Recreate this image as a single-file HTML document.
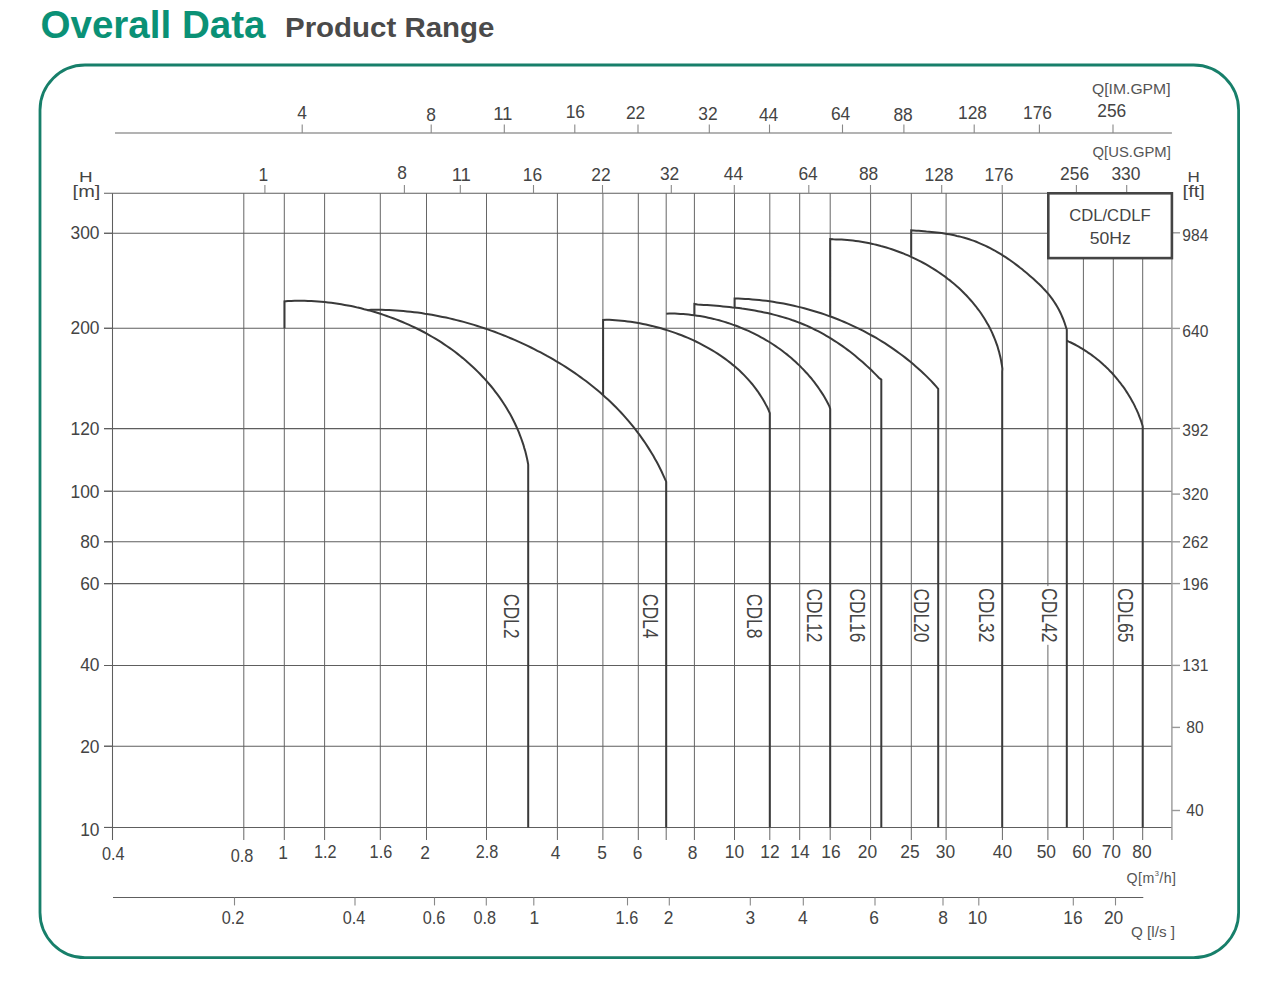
<!DOCTYPE html>
<html><head><meta charset="utf-8"><title>Overall Data - Product Range</title>
<style>
html,body{margin:0;padding:0;background:#fff;}
body{width:1279px;height:981px;overflow:hidden;position:relative;font-family:"Liberation Sans",Arial,sans-serif;}
h1{position:absolute;left:0;top:0;margin:0;font-weight:bold;white-space:nowrap;}
svg{position:absolute;left:0;top:0;}
.vg{stroke:#666;stroke-width:1.0;}
.hg{stroke:#5e5e5e;stroke-width:1.05;}
.ax{stroke:#999;stroke-width:1.4;}
.tk{stroke:#888;stroke-width:1.1;}
.cv{fill:none;stroke:#3a3a3a;stroke-width:2.0;stroke-linejoin:miter;}
text{font-family:"Liberation Sans",Arial,sans-serif;fill:#444;}
.n{font-size:18.2px;}
.r{font-size:15.6px;}
.t{font-size:14.2px;fill:#555;}
.u{font-size:15.5px;}
.u2{font-size:16px;}
.c{font-size:21.2px;}
.b{font-size:17px;}
.ti1{font-size:38.3px;font-weight:bold;fill:#0a9176;}
.ti2{font-size:27.6px;font-weight:bold;fill:#4a4a4a;}
</style></head><body>
<svg width="1279" height="981" viewBox="0 0 1279 981">
<text x="40.5" y="37.5" class="ti1" textLength="225" lengthAdjust="spacingAndGlyphs">Overall Data</text>
<text x="285" y="36.6" class="ti2" textLength="209.5" lengthAdjust="spacingAndGlyphs">Product Range</text>
<rect x="40" y="65" width="1198.6" height="892.6" rx="45" ry="45" fill="none" stroke="#177f6a" stroke-width="2.8"/>
<line x1="243.8" y1="193.3" x2="243.8" y2="840" class="vg"/>
<line x1="284.3" y1="193.3" x2="284.3" y2="840" class="vg"/>
<line x1="324.6" y1="193.3" x2="324.6" y2="840" class="vg"/>
<line x1="380.3" y1="193.3" x2="380.3" y2="840" class="vg"/>
<line x1="426.5" y1="193.3" x2="426.5" y2="840" class="vg"/>
<line x1="486.5" y1="193.3" x2="486.5" y2="840" class="vg"/>
<line x1="557.4" y1="193.3" x2="557.4" y2="840" class="vg"/>
<line x1="602.9" y1="193.3" x2="602.9" y2="840" class="vg"/>
<line x1="638.3" y1="193.3" x2="638.3" y2="840" class="vg"/>
<line x1="666.2" y1="193.3" x2="666.2" y2="840" class="vg"/>
<line x1="694.4" y1="193.3" x2="694.4" y2="840" class="vg"/>
<line x1="734.5" y1="193.3" x2="734.5" y2="840" class="vg"/>
<line x1="769.8" y1="193.3" x2="769.8" y2="840" class="vg"/>
<line x1="799.7" y1="193.3" x2="799.7" y2="840" class="vg"/>
<line x1="830.2" y1="193.3" x2="830.2" y2="840" class="vg"/>
<line x1="870.6" y1="193.3" x2="870.6" y2="840" class="vg"/>
<line x1="911.3" y1="193.3" x2="911.3" y2="840" class="vg"/>
<line x1="946.1" y1="193.3" x2="946.1" y2="840" class="vg"/>
<line x1="1002.4" y1="193.3" x2="1002.4" y2="840" class="vg"/>
<line x1="1047.9" y1="193.3" x2="1047.9" y2="840" class="vg"/>
<line x1="1083.4" y1="193.3" x2="1083.4" y2="840" class="vg"/>
<line x1="1113.3" y1="193.3" x2="1113.3" y2="840" class="vg"/>
<line x1="1142.7" y1="193.3" x2="1142.7" y2="840" class="vg"/>
<line x1="104" y1="233.3" x2="1171.9" y2="233.3" class="hg"/>
<line x1="104" y1="328.3" x2="1171.9" y2="328.3" class="hg"/>
<line x1="104" y1="428.6" x2="1171.9" y2="428.6" class="hg"/>
<line x1="104" y1="491.2" x2="1171.9" y2="491.2" class="hg"/>
<line x1="104" y1="541.8" x2="1171.9" y2="541.8" class="hg"/>
<line x1="104" y1="583.6" x2="1171.9" y2="583.6" class="hg"/>
<line x1="104" y1="665.5" x2="1171.9" y2="665.5" class="hg"/>
<line x1="104" y1="746.2" x2="1171.9" y2="746.2" class="hg"/>
<line x1="104" y1="193.3" x2="1171.9" y2="193.3" class="hg"/>
<line x1="104" y1="827.4" x2="1171.9" y2="827.4" class="hg"/>
<line x1="112.5" y1="193.3" x2="112.5" y2="840" class="hg"/>
<line x1="1171.9" y1="193.3" x2="1171.9" y2="840" class="ax"/>
<line x1="115" y1="133" x2="1171.9" y2="133" stroke="#9a9a9a" stroke-width="1.6"/>
<line x1="302.2" y1="124.5" x2="302.2" y2="133" class="tk"/>
<text x="302.2" y="118.7" class="n" text-anchor="middle" textLength="9.67" lengthAdjust="spacingAndGlyphs">4</text>
<line x1="431.2" y1="124.5" x2="431.2" y2="133" class="tk"/>
<text x="431.0" y="120.8" class="n" text-anchor="middle" textLength="9.67" lengthAdjust="spacingAndGlyphs">8</text>
<line x1="504.3" y1="124.5" x2="504.3" y2="133" class="tk"/>
<text x="502.8" y="120.0" class="n" text-anchor="middle" textLength="19.35" lengthAdjust="spacingAndGlyphs">11</text>
<line x1="574.8" y1="124.5" x2="574.8" y2="133" class="tk"/>
<text x="575.3" y="118.0" class="n" text-anchor="middle" textLength="19.35" lengthAdjust="spacingAndGlyphs">16</text>
<line x1="638.0" y1="124.5" x2="638.0" y2="133" class="tk"/>
<text x="635.6" y="119.3" class="n" text-anchor="middle" textLength="19.35" lengthAdjust="spacingAndGlyphs">22</text>
<line x1="709.3" y1="124.5" x2="709.3" y2="133" class="tk"/>
<text x="707.9" y="119.5" class="n" text-anchor="middle" textLength="19.35" lengthAdjust="spacingAndGlyphs">32</text>
<line x1="769.5" y1="124.5" x2="769.5" y2="133" class="tk"/>
<text x="768.6" y="120.5" class="n" text-anchor="middle" textLength="19.35" lengthAdjust="spacingAndGlyphs">44</text>
<line x1="842.5" y1="124.5" x2="842.5" y2="133" class="tk"/>
<text x="840.6" y="119.5" class="n" text-anchor="middle" textLength="19.35" lengthAdjust="spacingAndGlyphs">64</text>
<line x1="903.9" y1="124.5" x2="903.9" y2="133" class="tk"/>
<text x="903.1" y="120.5" class="n" text-anchor="middle" textLength="19.35" lengthAdjust="spacingAndGlyphs">88</text>
<line x1="974.2" y1="124.5" x2="974.2" y2="133" class="tk"/>
<text x="972.5" y="118.9" class="n" text-anchor="middle" textLength="29.02" lengthAdjust="spacingAndGlyphs">128</text>
<line x1="1039.4" y1="124.5" x2="1039.4" y2="133" class="tk"/>
<text x="1037.5" y="118.9" class="n" text-anchor="middle" textLength="29.02" lengthAdjust="spacingAndGlyphs">176</text>
<line x1="1113.0" y1="124.5" x2="1113.0" y2="133" class="tk"/>
<text x="1111.8" y="116.7" class="n" text-anchor="middle" textLength="29.02" lengthAdjust="spacingAndGlyphs">256</text>
<line x1="264.9" y1="185" x2="264.9" y2="193.3" class="tk"/>
<text x="263.3" y="180.5" class="n" text-anchor="middle" textLength="9.67" lengthAdjust="spacingAndGlyphs">1</text>
<line x1="404.4" y1="185" x2="404.4" y2="193.3" class="tk"/>
<text x="402.2" y="179.3" class="n" text-anchor="middle" textLength="9.67" lengthAdjust="spacingAndGlyphs">8</text>
<line x1="460.3" y1="185" x2="460.3" y2="193.3" class="tk"/>
<text x="461.3" y="181.3" class="n" text-anchor="middle" textLength="19.35" lengthAdjust="spacingAndGlyphs">11</text>
<line x1="533.5" y1="185" x2="533.5" y2="193.3" class="tk"/>
<text x="532.5" y="181.3" class="n" text-anchor="middle" textLength="19.35" lengthAdjust="spacingAndGlyphs">16</text>
<line x1="602.5" y1="185" x2="602.5" y2="193.3" class="tk"/>
<text x="600.9" y="181.3" class="n" text-anchor="middle" textLength="19.35" lengthAdjust="spacingAndGlyphs">22</text>
<line x1="671.3" y1="185" x2="671.3" y2="193.3" class="tk"/>
<text x="669.6" y="180.0" class="n" text-anchor="middle" textLength="19.35" lengthAdjust="spacingAndGlyphs">32</text>
<line x1="734.3" y1="185" x2="734.3" y2="193.3" class="tk"/>
<text x="733.4" y="180.0" class="n" text-anchor="middle" textLength="19.35" lengthAdjust="spacingAndGlyphs">44</text>
<line x1="808.8" y1="185" x2="808.8" y2="193.3" class="tk"/>
<text x="808.1" y="180.0" class="n" text-anchor="middle" textLength="19.35" lengthAdjust="spacingAndGlyphs">64</text>
<line x1="870.5" y1="185" x2="870.5" y2="193.3" class="tk"/>
<text x="868.6" y="180.0" class="n" text-anchor="middle" textLength="19.35" lengthAdjust="spacingAndGlyphs">88</text>
<line x1="941.7" y1="185" x2="941.7" y2="193.3" class="tk"/>
<text x="939.0" y="181.0" class="n" text-anchor="middle" textLength="29.02" lengthAdjust="spacingAndGlyphs">128</text>
<line x1="1002.2" y1="185" x2="1002.2" y2="193.3" class="tk"/>
<text x="999.0" y="180.8" class="n" text-anchor="middle" textLength="29.02" lengthAdjust="spacingAndGlyphs">176</text>
<line x1="1076.4" y1="185" x2="1076.4" y2="193.3" class="tk"/>
<text x="1074.6" y="179.8" class="n" text-anchor="middle" textLength="29.02" lengthAdjust="spacingAndGlyphs">256</text>
<line x1="1126.7" y1="185" x2="1126.7" y2="193.3" class="tk"/>
<text x="1125.9" y="179.8" class="n" text-anchor="middle" textLength="29.02" lengthAdjust="spacingAndGlyphs">330</text>
<text x="1092" y="93.6" class="t" textLength="78.5" lengthAdjust="spacingAndGlyphs">Q[IM.GPM]</text>
<text x="1092.6" y="156.8" class="t" textLength="78.2" lengthAdjust="spacingAndGlyphs">Q[US.GPM]</text>
<line x1="104" y1="233.3" x2="112.5" y2="233.3" class="hg"/>
<text x="99.5" y="239.2" class="n" text-anchor="end" textLength="29.02" lengthAdjust="spacingAndGlyphs">300</text>
<line x1="104" y1="328.3" x2="112.5" y2="328.3" class="hg"/>
<text x="99.5" y="333.9" class="n" text-anchor="end" textLength="29.02" lengthAdjust="spacingAndGlyphs">200</text>
<line x1="104" y1="428.6" x2="112.5" y2="428.6" class="hg"/>
<text x="99.5" y="435.1" class="n" text-anchor="end" textLength="29.02" lengthAdjust="spacingAndGlyphs">120</text>
<line x1="104" y1="491.2" x2="112.5" y2="491.2" class="hg"/>
<text x="99.5" y="497.9" class="n" text-anchor="end" textLength="29.02" lengthAdjust="spacingAndGlyphs">100</text>
<line x1="104" y1="541.8" x2="112.5" y2="541.8" class="hg"/>
<text x="99.5" y="548.4" class="n" text-anchor="end" textLength="19.35" lengthAdjust="spacingAndGlyphs">80</text>
<line x1="104" y1="583.6" x2="112.5" y2="583.6" class="hg"/>
<text x="99.5" y="589.6" class="n" text-anchor="end" textLength="19.35" lengthAdjust="spacingAndGlyphs">60</text>
<line x1="104" y1="665.5" x2="112.5" y2="665.5" class="hg"/>
<text x="99.5" y="671.0" class="n" text-anchor="end" textLength="19.35" lengthAdjust="spacingAndGlyphs">40</text>
<line x1="104" y1="746.2" x2="112.5" y2="746.2" class="hg"/>
<text x="99.5" y="753.2" class="n" text-anchor="end" textLength="19.35" lengthAdjust="spacingAndGlyphs">20</text>
<line x1="104" y1="827.4" x2="112.5" y2="827.4" class="hg"/>
<text x="99.5" y="835.7" class="n" text-anchor="end" textLength="19.35" lengthAdjust="spacingAndGlyphs">10</text>
<text transform="translate(78.9,182.1) scale(1.22,1)" class="u">H</text>
<text x="72.6" y="197.3" class="u2" textLength="27.7" lengthAdjust="spacingAndGlyphs">[m]</text>
<text transform="translate(1187.4,182.3) scale(1.1,1)" class="u">H</text>
<text x="1182.6" y="197.3" class="u2" textLength="22.2" lengthAdjust="spacingAndGlyphs">[ft]</text>
<line x1="1171.9" y1="232.8" x2="1180" y2="232.8" class="ax"/>
<text x="1182.3" y="241.0" class="r">984</text>
<line x1="1171.9" y1="328.4" x2="1180" y2="328.4" class="ax"/>
<text x="1182.3" y="336.7" class="r">640</text>
<line x1="1171.9" y1="428.4" x2="1180" y2="428.4" class="ax"/>
<text x="1182.3" y="435.8" class="r">392</text>
<line x1="1171.9" y1="494.1" x2="1180" y2="494.1" class="ax"/>
<text x="1182.3" y="499.8" class="r">320</text>
<line x1="1171.9" y1="541.8" x2="1180" y2="541.8" class="ax"/>
<text x="1182.3" y="547.8" class="r">262</text>
<line x1="1171.9" y1="583.6" x2="1180" y2="583.6" class="ax"/>
<text x="1182.3" y="589.9" class="r">196</text>
<line x1="1171.9" y1="665.4" x2="1180" y2="665.4" class="ax"/>
<text x="1182.3" y="671.2" class="r">131</text>
<line x1="1171.9" y1="727.4" x2="1180" y2="727.4" class="ax"/>
<text x="1186.3" y="733.0" class="r">80</text>
<line x1="1171.9" y1="810.5" x2="1180" y2="810.5" class="ax"/>
<text x="1186.3" y="816.3" class="r">40</text>
<text x="113.3" y="860.0" class="n" text-anchor="middle" textLength="22.6" lengthAdjust="spacingAndGlyphs">0.4</text>
<text x="242.1" y="862.0" class="n" text-anchor="middle" textLength="22.6" lengthAdjust="spacingAndGlyphs">0.8</text>
<text x="283.0" y="858.8" class="n" text-anchor="middle" textLength="9.67" lengthAdjust="spacingAndGlyphs">1</text>
<text x="325.3" y="858.0" class="n" text-anchor="middle" textLength="22.6" lengthAdjust="spacingAndGlyphs">1.2</text>
<text x="380.9" y="858.0" class="n" text-anchor="middle" textLength="22.6" lengthAdjust="spacingAndGlyphs">1.6</text>
<text x="425.0" y="858.8" class="n" text-anchor="middle" textLength="9.67" lengthAdjust="spacingAndGlyphs">2</text>
<text x="487.0" y="858.0" class="n" text-anchor="middle" textLength="22.6" lengthAdjust="spacingAndGlyphs">2.8</text>
<text x="555.5" y="858.8" class="n" text-anchor="middle" textLength="9.67" lengthAdjust="spacingAndGlyphs">4</text>
<text x="602.0" y="858.8" class="n" text-anchor="middle" textLength="9.67" lengthAdjust="spacingAndGlyphs">5</text>
<text x="637.5" y="858.8" class="n" text-anchor="middle" textLength="9.67" lengthAdjust="spacingAndGlyphs">6</text>
<text x="692.5" y="858.8" class="n" text-anchor="middle" textLength="9.67" lengthAdjust="spacingAndGlyphs">8</text>
<text x="734.5" y="858.0" class="n" text-anchor="middle" textLength="19.35" lengthAdjust="spacingAndGlyphs">10</text>
<text x="770.0" y="858.0" class="n" text-anchor="middle" textLength="19.35" lengthAdjust="spacingAndGlyphs">12</text>
<text x="800.0" y="858.0" class="n" text-anchor="middle" textLength="19.35" lengthAdjust="spacingAndGlyphs">14</text>
<text x="831.0" y="858.0" class="n" text-anchor="middle" textLength="19.35" lengthAdjust="spacingAndGlyphs">16</text>
<text x="867.5" y="858.0" class="n" text-anchor="middle" textLength="19.35" lengthAdjust="spacingAndGlyphs">20</text>
<text x="910.0" y="858.0" class="n" text-anchor="middle" textLength="19.35" lengthAdjust="spacingAndGlyphs">25</text>
<text x="945.5" y="858.0" class="n" text-anchor="middle" textLength="19.35" lengthAdjust="spacingAndGlyphs">30</text>
<text x="1002.5" y="858.0" class="n" text-anchor="middle" textLength="19.35" lengthAdjust="spacingAndGlyphs">40</text>
<text x="1046.3" y="858.0" class="n" text-anchor="middle" textLength="19.35" lengthAdjust="spacingAndGlyphs">50</text>
<text x="1081.8" y="858.0" class="n" text-anchor="middle" textLength="19.35" lengthAdjust="spacingAndGlyphs">60</text>
<text x="1111.3" y="858.0" class="n" text-anchor="middle" textLength="19.35" lengthAdjust="spacingAndGlyphs">70</text>
<text x="1142.0" y="857.8" class="n" text-anchor="middle" textLength="19.35" lengthAdjust="spacingAndGlyphs">80</text>
<text x="1126.5" y="883" class="t" letter-spacing="0.45">Q[m<tspan font-size="7.5" dy="-7">3</tspan><tspan dy="7">/h]</tspan></text>
<line x1="113" y1="897.5" x2="1143.3" y2="897.5" class="hg"/>
<line x1="234.5" y1="897.5" x2="234.5" y2="905.4" class="tk"/>
<text x="233.1" y="924" class="n" text-anchor="middle" textLength="22.6" lengthAdjust="spacingAndGlyphs">0.2</text>
<line x1="355.0" y1="897.5" x2="355.0" y2="905.4" class="tk"/>
<text x="354.0" y="924" class="n" text-anchor="middle" textLength="22.6" lengthAdjust="spacingAndGlyphs">0.4</text>
<line x1="434.5" y1="897.5" x2="434.5" y2="905.4" class="tk"/>
<text x="434.1" y="924" class="n" text-anchor="middle" textLength="22.6" lengthAdjust="spacingAndGlyphs">0.6</text>
<line x1="486.3" y1="897.5" x2="486.3" y2="905.4" class="tk"/>
<text x="484.8" y="924" class="n" text-anchor="middle" textLength="22.6" lengthAdjust="spacingAndGlyphs">0.8</text>
<line x1="533.8" y1="897.5" x2="533.8" y2="905.4" class="tk"/>
<text x="534.4" y="924" class="n" text-anchor="middle" textLength="9.67" lengthAdjust="spacingAndGlyphs">1</text>
<line x1="627.5" y1="897.5" x2="627.5" y2="905.4" class="tk"/>
<text x="626.9" y="924" class="n" text-anchor="middle" textLength="22.6" lengthAdjust="spacingAndGlyphs">1.6</text>
<line x1="669.3" y1="897.5" x2="669.3" y2="905.4" class="tk"/>
<text x="668.5" y="924" class="n" text-anchor="middle" textLength="9.67" lengthAdjust="spacingAndGlyphs">2</text>
<line x1="750.3" y1="897.5" x2="750.3" y2="905.4" class="tk"/>
<text x="750.4" y="924" class="n" text-anchor="middle" textLength="9.67" lengthAdjust="spacingAndGlyphs">3</text>
<line x1="803.3" y1="897.5" x2="803.3" y2="905.4" class="tk"/>
<text x="802.8" y="924" class="n" text-anchor="middle" textLength="9.67" lengthAdjust="spacingAndGlyphs">4</text>
<line x1="875.0" y1="897.5" x2="875.0" y2="905.4" class="tk"/>
<text x="874.1" y="924" class="n" text-anchor="middle" textLength="9.67" lengthAdjust="spacingAndGlyphs">6</text>
<line x1="943.0" y1="897.5" x2="943.0" y2="905.4" class="tk"/>
<text x="943.1" y="924" class="n" text-anchor="middle" textLength="9.67" lengthAdjust="spacingAndGlyphs">8</text>
<line x1="978.8" y1="897.5" x2="978.8" y2="905.4" class="tk"/>
<text x="977.5" y="924" class="n" text-anchor="middle" textLength="19.35" lengthAdjust="spacingAndGlyphs">10</text>
<line x1="1073.3" y1="897.5" x2="1073.3" y2="905.4" class="tk"/>
<text x="1072.9" y="924" class="n" text-anchor="middle" textLength="19.35" lengthAdjust="spacingAndGlyphs">16</text>
<line x1="1115.5" y1="897.5" x2="1115.5" y2="905.4" class="tk"/>
<text x="1113.6" y="924" class="n" text-anchor="middle" textLength="19.35" lengthAdjust="spacingAndGlyphs">20</text>
<text x="1131" y="937" class="t" textLength="44" lengthAdjust="spacingAndGlyphs">Q [l/s ]</text>
<path d="M284.5,328.3 L284.5,301.40000000000003 L284.5,301.4 L287.9,301.0 L291.3,300.9 L294.6,300.8 L297.9,300.7 L301.3,300.7 L304.6,300.8 L308.0,300.9 L311.3,301.0 L314.7,301.2 L318.0,301.4 L321.3,301.7 L324.7,302.0 L328.0,302.4 L331.3,302.8 L334.6,303.2 L337.9,303.7 L341.3,304.3 L344.6,304.9 L347.9,305.5 L351.2,306.1 L354.4,306.8 L357.7,307.6 L361.0,308.3 L364.2,309.2 L367.5,310.0 L370.7,310.9 L374.0,311.8 L377.2,312.8 L380.4,313.8 L383.6,314.9 L386.8,316.0 L389.9,317.1 L393.1,318.2 L396.2,319.4 L399.4,320.7 L402.5,322.0 L405.6,323.3 L408.6,324.7 L411.7,326.1 L414.7,327.5 L417.8,329.0 L420.8,330.5 L423.7,332.0 L426.7,333.6 L429.6,335.3 L432.5,337.0 L435.4,338.7 L438.3,340.4 L441.1,342.2 L443.9,344.1 L446.7,346.0 L449.5,347.9 L452.2,349.8 L454.9,351.8 L457.6,353.9 L460.2,356.0 L462.8,358.1 L465.4,360.3 L467.9,362.5 L470.4,364.7 L472.9,367.0 L475.3,369.3 L477.7,371.6 L480.1,374.0 L482.4,376.5 L484.7,378.9 L486.9,381.4 L489.1,384.0 L491.3,386.5 L493.4,389.1 L495.4,391.8 L497.4,394.4 L499.4,397.2 L501.3,399.9 L503.2,402.7 L505.0,405.5 L506.7,408.3 L508.4,411.2 L510.1,414.1 L511.7,417.0 L513.2,420.0 L514.7,423.0 L516.1,426.0 L517.5,429.1 L518.8,432.2 L520.0,435.3 L521.2,438.5 L522.3,441.6 L523.4,444.8 L524.3,448.1 L525.3,451.3 L526.1,454.6 L526.9,457.9 L527.6,461.3 L528.2,464.5 L528.2,827.4" class="cv"/>
<path d="M367.4,310.2 L371.0,309.8 L374.6,309.8 L378.2,309.8 L381.8,309.8 L385.4,309.9 L389.0,310.1 L392.6,310.3 L396.2,310.5 L399.8,310.8 L403.4,311.1 L407.0,311.4 L410.6,311.8 L414.1,312.2 L417.7,312.6 L421.3,313.1 L424.8,313.7 L428.4,314.2 L431.9,314.8 L435.5,315.5 L439.0,316.2 L442.5,316.9 L446.1,317.6 L449.6,318.4 L453.1,319.2 L456.6,320.1 L460.1,321.0 L463.6,321.9 L467.0,322.9 L470.5,323.9 L474.0,324.9 L477.4,326.0 L480.9,327.1 L484.3,328.2 L487.7,329.4 L491.1,330.6 L494.5,331.8 L497.9,333.1 L501.2,334.4 L504.6,335.7 L508.0,337.1 L511.3,338.5 L514.6,339.9 L517.9,341.4 L521.2,342.9 L524.5,344.4 L527.7,345.9 L531.0,347.5 L534.2,349.1 L537.4,350.8 L540.7,352.4 L543.8,354.1 L547.0,355.9 L550.2,357.6 L553.3,359.4 L556.4,361.3 L559.5,363.1 L562.6,365.0 L565.6,366.9 L568.6,368.9 L571.6,370.9 L574.6,372.9 L577.6,375.0 L580.5,377.1 L583.4,379.2 L586.3,381.3 L589.1,383.5 L591.9,385.7 L594.7,388.0 L597.5,390.3 L600.2,392.6 L602.9,395.0 L605.6,397.4 L608.3,399.8 L610.9,402.3 L613.4,404.8 L616.0,407.3 L618.5,409.9 L621.0,412.5 L623.4,415.2 L625.8,417.8 L628.2,420.6 L630.5,423.3 L632.8,426.1 L635.0,428.9 L637.2,431.8 L639.4,434.7 L641.5,437.6 L643.6,440.6 L645.6,443.5 L647.6,446.6 L649.5,449.6 L651.4,452.7 L653.3,455.8 L655.0,458.9 L656.8,462.1 L658.5,465.3 L660.1,468.5 L661.7,471.8 L663.2,475.1 L664.7,478.4 L666.2,481.6 L666.2,827.4" class="cv"/>
<path d="M603.1,394.9 L603.1,319.90000000000003 L603.1,319.9 L606.3,319.7 L609.4,319.8 L612.4,320.0 L615.4,320.2 L618.5,320.4 L621.5,320.7 L624.6,321.0 L627.6,321.4 L630.7,321.8 L633.7,322.3 L636.8,322.8 L639.8,323.3 L642.9,323.9 L645.9,324.5 L648.9,325.2 L652.0,325.9 L655.0,326.7 L658.0,327.5 L661.0,328.3 L664.0,329.2 L666.9,330.1 L669.9,331.1 L672.9,332.1 L675.8,333.1 L678.7,334.2 L681.6,335.3 L684.5,336.5 L687.4,337.7 L690.3,338.9 L693.1,340.2 L695.9,341.5 L698.7,342.9 L701.5,344.3 L704.2,345.8 L707.0,347.3 L709.7,348.8 L712.3,350.4 L715.0,352.0 L717.6,353.7 L720.2,355.4 L722.7,357.1 L725.2,358.9 L727.7,360.7 L730.1,362.6 L732.5,364.6 L734.9,366.5 L737.2,368.6 L739.5,370.6 L741.7,372.7 L743.9,374.9 L746.0,377.1 L748.1,379.3 L750.1,381.6 L752.1,384.0 L754.0,386.4 L755.9,388.8 L757.7,391.3 L759.4,393.9 L761.1,396.5 L762.7,399.1 L764.3,401.8 L765.8,404.6 L767.3,407.3 L768.6,410.2 L769.8,413.1 L769.8,827.4" class="cv"/>
<path d="M666.3,313.7 L669.2,313.5 L672.0,313.5 L674.8,313.6 L677.6,313.7 L680.4,313.9 L683.1,314.1 L685.9,314.3 L688.7,314.6 L691.5,314.9 L694.3,315.3 L697.1,315.7 L699.9,316.1 L702.7,316.6 L705.4,317.1 L708.2,317.7 L710.9,318.3 L713.7,318.9 L716.4,319.6 L719.2,320.3 L721.9,321.1 L724.6,321.9 L727.3,322.8 L730.0,323.6 L732.7,324.6 L735.4,325.5 L738.0,326.5 L740.6,327.6 L743.3,328.7 L745.9,329.8 L748.5,330.9 L751.0,332.1 L753.6,333.4 L756.1,334.6 L758.6,335.9 L761.1,337.3 L763.6,338.7 L766.0,340.1 L768.5,341.5 L770.9,343.0 L773.2,344.5 L775.6,346.1 L777.9,347.7 L780.2,349.3 L782.5,351.0 L784.7,352.7 L786.9,354.4 L789.1,356.2 L791.3,358.0 L793.4,359.9 L795.5,361.8 L797.5,363.7 L799.6,365.6 L801.5,367.6 L803.5,369.6 L805.4,371.7 L807.3,373.7 L809.1,375.8 L811.0,378.0 L812.7,380.2 L814.5,382.4 L816.1,384.6 L817.8,386.9 L819.4,389.2 L821.0,391.6 L822.5,393.9 L824.0,396.3 L825.4,398.8 L826.8,401.2 L828.1,403.7 L829.4,406.3 L830.2,409.0 L830.2,827.4" class="cv"/>
<path d="M694.4,314.7 L694.4,304.0 L694.4,304.0 L697.5,304.5 L700.7,304.7 L703.9,304.9 L707.0,305.1 L710.2,305.3 L713.4,305.5 L716.6,305.8 L719.8,306.1 L723.0,306.4 L726.2,306.7 L729.4,307.0 L732.6,307.4 L735.8,307.7 L738.9,308.1 L742.1,308.6 L745.3,309.0 L748.5,309.5 L751.6,310.0 L754.8,310.6 L758.0,311.2 L761.1,311.8 L764.2,312.4 L767.4,313.1 L770.5,313.8 L773.6,314.6 L776.7,315.4 L779.7,316.2 L782.8,317.1 L785.8,318.0 L788.9,318.9 L791.9,320.0 L794.9,321.0 L797.8,322.1 L800.8,323.3 L803.7,324.5 L806.6,325.7 L809.5,327.0 L812.4,328.4 L815.2,329.8 L818.1,331.2 L820.9,332.7 L823.6,334.2 L826.4,335.8 L829.1,337.4 L831.9,339.1 L834.5,340.8 L837.2,342.5 L839.9,344.3 L842.5,346.1 L845.1,348.0 L847.6,349.9 L850.2,351.8 L852.7,353.8 L855.2,355.8 L857.7,357.9 L860.1,359.9 L862.6,362.1 L865.0,364.2 L867.3,366.4 L869.7,368.6 L872.0,370.8 L874.3,373.1 L876.6,375.4 L878.8,377.7 L881.3,379.6 L881.3,827.4" class="cv"/>
<path d="M734.6,307.5 L734.6,298.5 L734.6,298.5 L738.2,298.5 L741.7,298.7 L745.2,298.9 L748.7,299.1 L752.2,299.4 L755.7,299.7 L759.2,300.0 L762.7,300.4 L766.2,300.8 L769.7,301.3 L773.1,301.8 L776.6,302.4 L780.1,303.0 L783.6,303.6 L787.0,304.3 L790.5,305.0 L793.9,305.8 L797.4,306.6 L800.8,307.4 L804.2,308.3 L807.6,309.2 L811.0,310.2 L814.4,311.2 L817.8,312.2 L821.2,313.3 L824.5,314.4 L827.8,315.6 L831.2,316.8 L834.5,318.0 L837.7,319.3 L841.0,320.6 L844.3,322.0 L847.5,323.4 L850.7,324.8 L853.9,326.3 L857.1,327.8 L860.3,329.3 L863.4,330.9 L866.5,332.6 L869.6,334.3 L872.7,336.0 L875.8,337.7 L878.8,339.5 L881.8,341.3 L884.8,343.2 L887.7,345.1 L890.7,347.1 L893.6,349.1 L896.4,351.1 L899.3,353.2 L902.1,355.3 L904.9,357.4 L907.7,359.6 L910.4,361.8 L913.1,364.1 L915.8,366.4 L918.4,368.7 L921.0,371.1 L923.6,373.5 L926.1,375.9 L928.6,378.4 L931.1,380.9 L933.5,383.5 L935.9,386.1 L938.2,388.8 L938.2,827.4" class="cv"/>
<path d="M830.2,315.8 L830.2,239.0 L830.2,239.0 L833.3,239.3 L836.1,239.4 L838.9,239.5 L841.6,239.6 L844.4,239.8 L847.2,240.0 L850.0,240.3 L852.9,240.6 L855.7,240.9 L858.5,241.3 L861.3,241.7 L864.1,242.2 L866.9,242.7 L869.7,243.3 L872.5,243.9 L875.3,244.6 L878.0,245.2 L880.8,246.0 L883.6,246.7 L886.3,247.5 L889.1,248.4 L891.8,249.3 L894.6,250.2 L897.3,251.2 L900.0,252.2 L902.7,253.2 L905.3,254.3 L908.0,255.4 L910.6,256.6 L913.2,257.8 L915.9,259.1 L918.4,260.3 L921.0,261.7 L923.5,263.0 L926.1,264.4 L928.6,265.9 L931.0,267.3 L933.5,268.8 L935.9,270.4 L938.3,272.0 L940.7,273.6 L943.0,275.2 L945.4,276.9 L947.6,278.7 L949.9,280.4 L952.1,282.2 L954.3,284.1 L956.5,285.9 L958.6,287.8 L960.7,289.8 L962.7,291.7 L964.7,293.8 L966.7,295.8 L968.6,297.9 L970.5,300.0 L972.4,302.1 L974.2,304.3 L976.0,306.5 L977.7,308.8 L979.4,311.0 L981.0,313.3 L982.6,315.7 L984.1,318.0 L985.6,320.4 L987.0,322.9 L988.4,325.3 L989.7,327.8 L991.0,330.4 L992.2,332.9 L993.3,335.5 L994.4,338.1 L995.5,340.8 L996.4,343.4 L997.4,346.1 L998.2,348.9 L999.0,351.6 L999.7,354.4 L1000.4,357.3 L1001.0,360.1 L1001.5,363.0 L1002.0,365.9 L1002.4,368.8 L1002.2,371.6 L1002.2,827.4" class="cv"/>
<path d="M911.2,255.8 L911.2,230.29999999999998 L911.2,230.3 L913.7,230.5 L916.2,230.7 L918.8,230.8 L921.3,231.0 L923.9,231.2 L926.4,231.5 L929.0,231.7 L931.5,231.9 L934.1,232.2 L936.6,232.5 L939.2,232.8 L941.7,233.1 L944.3,233.5 L946.8,233.9 L949.4,234.3 L951.9,234.8 L954.4,235.3 L956.9,235.9 L959.4,236.4 L961.9,237.1 L964.3,237.8 L966.8,238.5 L969.2,239.3 L971.6,240.1 L974.0,240.9 L976.3,241.8 L978.7,242.8 L981.0,243.8 L983.3,244.8 L985.6,245.9 L987.9,247.0 L990.2,248.1 L992.4,249.3 L994.7,250.5 L996.9,251.8 L999.1,253.1 L1001.3,254.4 L1003.4,255.8 L1005.6,257.2 L1007.7,258.6 L1009.8,260.0 L1011.9,261.5 L1014.0,263.0 L1016.1,264.6 L1018.1,266.1 L1020.1,267.7 L1022.2,269.3 L1024.1,270.9 L1026.1,272.6 L1028.1,274.2 L1030.0,275.9 L1031.9,277.6 L1033.9,279.3 L1035.7,281.0 L1037.6,282.8 L1039.5,284.5 L1041.3,286.3 L1043.0,288.1 L1044.8,290.0 L1046.5,291.8 L1048.1,293.7 L1049.7,295.7 L1051.2,297.7 L1052.7,299.7 L1054.1,301.8 L1055.5,303.9 L1056.8,306.1 L1058.1,308.3 L1059.3,310.5 L1060.4,312.8 L1061.5,315.1 L1062.5,317.5 L1063.5,319.9 L1064.4,322.3 L1065.2,324.8 L1066.0,327.3 L1066.8,329.7 L1066.8,827.4" class="cv"/>
<path d="M1066.8,340.6 L1068.8,341.6 L1070.8,342.5 L1072.8,343.5 L1074.8,344.5 L1076.8,345.6 L1078.7,346.7 L1080.6,347.8 L1082.5,348.9 L1084.4,350.1 L1086.3,351.3 L1088.1,352.6 L1090.0,353.8 L1091.8,355.1 L1093.6,356.5 L1095.3,357.8 L1097.1,359.2 L1098.8,360.6 L1100.5,362.0 L1102.2,363.5 L1103.8,365.0 L1105.5,366.5 L1107.1,368.1 L1108.7,369.6 L1110.2,371.2 L1111.8,372.8 L1113.3,374.5 L1114.7,376.1 L1116.2,377.8 L1117.6,379.5 L1119.0,381.3 L1120.4,383.0 L1121.7,384.8 L1123.1,386.6 L1124.4,388.4 L1125.6,390.2 L1126.8,392.1 L1128.0,394.0 L1129.2,395.9 L1130.3,397.8 L1131.4,399.7 L1132.5,401.7 L1133.6,403.6 L1134.6,405.6 L1135.5,407.6 L1136.5,409.6 L1137.4,411.7 L1138.3,413.7 L1139.1,415.8 L1139.9,417.8 L1140.7,419.9 L1141.4,422.0 L1142.1,424.2 L1142.7,426.3 L1142.7,827.4" class="cv"/>
<text transform="translate(504.4,593.7) rotate(90)" class="c" textLength="44.9" lengthAdjust="spacingAndGlyphs">CDL2</text>
<text transform="translate(642.5,593.7) rotate(90)" class="c" textLength="44.9" lengthAdjust="spacingAndGlyphs">CDL4</text>
<text transform="translate(747.2,593.8) rotate(90)" class="c" textLength="44.6" lengthAdjust="spacingAndGlyphs">CDL8</text>
<text transform="translate(806.5,588.6) rotate(90)" class="c" textLength="53.7" lengthAdjust="spacingAndGlyphs">CDL12</text>
<text transform="translate(849.5,588.6) rotate(90)" class="c" textLength="53.7" lengthAdjust="spacingAndGlyphs">CDL16</text>
<text transform="translate(914.0,588.6) rotate(90)" class="c" textLength="53.7" lengthAdjust="spacingAndGlyphs">CDL20</text>
<text transform="translate(979.3,588.1) rotate(90)" class="c" textLength="54.300000000000004" lengthAdjust="spacingAndGlyphs">CDL32</text>
<rect x="1041.4" y="586.1" width="17.5" height="58.7" fill="#fff"/>
<text transform="translate(1042.4,588.1) rotate(90)" class="c" textLength="54.300000000000004" lengthAdjust="spacingAndGlyphs">CDL42</text>
<text transform="translate(1118.2,588.1) rotate(90)" class="c" textLength="54.300000000000004" lengthAdjust="spacingAndGlyphs">CDL65</text>
<rect x="1048.3" y="193.3" width="123.6" height="64.8" fill="#fff" stroke="#444" stroke-width="2.6"/>
<text x="1069.2" y="220.9" class="b" textLength="81.4" lengthAdjust="spacingAndGlyphs">CDL/CDLF</text>
<text x="1089.8" y="244.4" class="b" textLength="41" lengthAdjust="spacingAndGlyphs">50Hz</text>
</svg>
</body></html>
